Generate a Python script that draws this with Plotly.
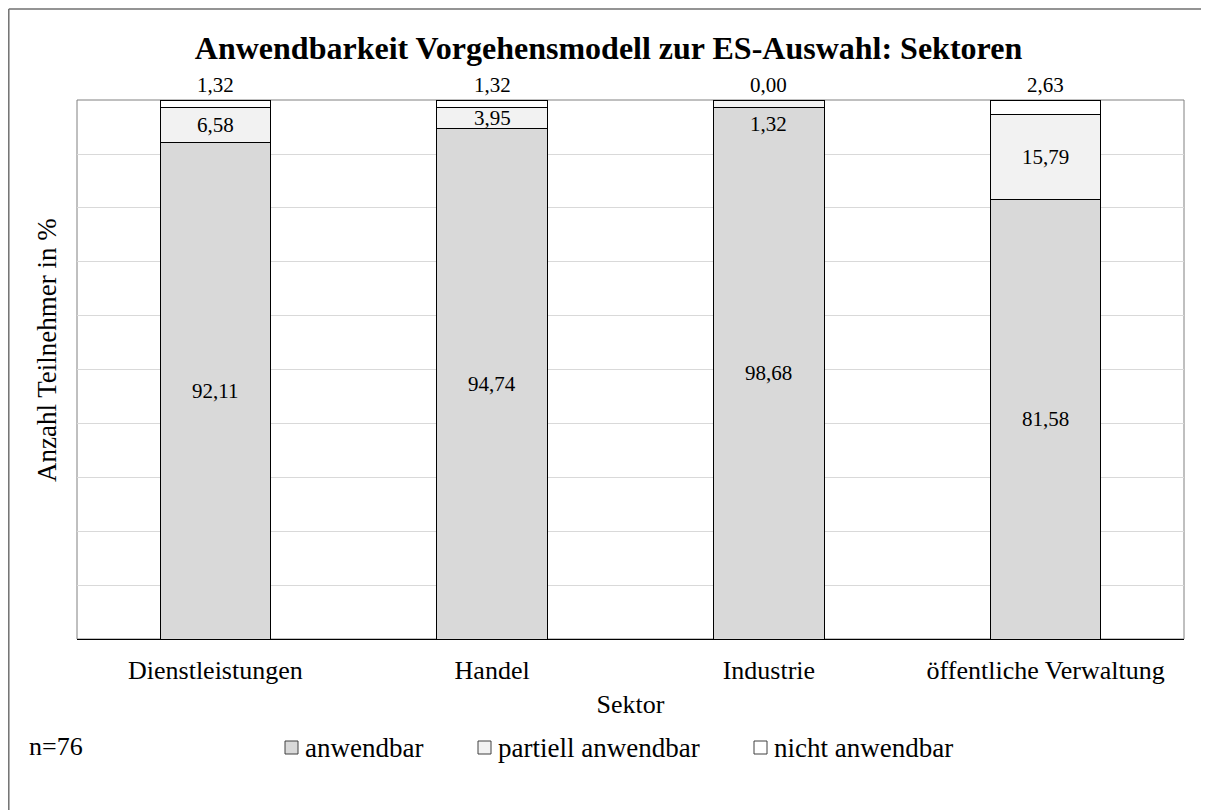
import plotly.graph_objects as go

# ---- data ----
categories = ["Dienstleistungen", "Handel", "Industrie", "öffentliche Verwaltung"]
anwendbar = [92.11, 94.74, 98.68, 81.58]
partiell = [6.58, 3.95, 1.32, 15.79]
nicht = [1.32, 1.32, 0.00, 2.63]
series_names = ["anwendbar", "partiell anwendbar", "nicht anwendbar"]
series_colors = ["#D9D9D9", "#F2F2F2", "#FFFFFF"]
title_text = "Anwendbarkeit Vorgehensmodell zur ES-Auswahl: Sektoren"
n_text = "n=76"

FONT = "Liberation Serif, Times New Roman, serif"
W, H = 1201, 802
L, T = 69, 92
PW, PH = 1107, 539
R = W - L - PW
B = H - T - PH


def px_x(x):
    return (x - L) / PW


def px_y(y):
    return 1 - (y - T) / PH


def fmt(v):
    return f"{v:.2f}".replace(".", ",")


fig = go.Figure()
for name, vals, col in zip(series_names, [anwendbar, partiell, nicht], series_colors):
    fig.add_trace(go.Bar(
        x=categories, y=vals, name=name,
        marker=dict(color=col, line=dict(color="black", width=1)),
        showlegend=False,
    ))

annotations = []
for i, cat in enumerate(categories):
    a, p, n = anwendbar[i], partiell[i], nicht[i]
    annotations.append(dict(x=cat, y=a / 2, xref="x", yref="y", text=fmt(a),
                            showarrow=False, yanchor="middle",
                            font=dict(family=FONT, size=21, color="black")))
    if p >= 3:
        annotations.append(dict(x=cat, y=a + p / 2, xref="x", yref="y", text=fmt(p),
                                showarrow=False, yanchor="middle",
                                font=dict(family=FONT, size=21, color="black")))
    else:
        annotations.append(dict(x=cat, y=a, xref="x", yref="y", text=fmt(p),
                                showarrow=False, yanchor="top", yshift=-3,
                                font=dict(family=FONT, size=21, color="black")))
    annotations.append(dict(x=cat, y=a + p + n, xref="x", yref="y", text=fmt(n),
                            showarrow=False, yanchor="bottom", yshift=1,
                            font=dict(family=FONT, size=21, color="black")))

# y axis title
annotations.append(dict(x=px_x(39), y=px_y(342), xref="paper", yref="paper",
                        text="Anzahl Teilnehmer in %", textangle=-90, showarrow=False,
                        xanchor="center", yanchor="middle",
                        font=dict(family=FONT, size=27, color="black")))
# n
annotations.append(dict(x=px_x(19), y=px_y(738), xref="paper", yref="paper",
                        text=n_text, showarrow=False, xanchor="left", yanchor="middle",
                        font=dict(family=FONT, size=26, color="black")))

shapes = [
    # plot frame
    dict(type="rect", xref="paper", yref="paper", x0=0, x1=1, y0=0, y1=1,
         line=dict(color="#808080", width=1), layer="below"),
    # outer border: top and left edges (the rest runs off the page)
    dict(type="line", xref="paper", yref="paper",
         x0=px_x(0.8), x1=px_x(W + 40), y0=px_y(1), y1=px_y(1),
         line=dict(color="#707070", width=1.5)),
    dict(type="line", xref="paper", yref="paper",
         x0=px_x(0.8), x1=px_x(0.8), y0=px_y(1), y1=px_y(H + 40),
         line=dict(color="#707070", width=1.5)),
]

# custom legend
legend_x = [277, 470, 746]
for name, col, lx in zip(series_names, series_colors, legend_x):
    shapes.append(dict(type="rect", xref="paper", yref="paper",
                       x0=px_x(lx), x1=px_x(lx + 13), y0=px_y(746), y1=px_y(733),
                       fillcolor=col, line=dict(color="#404040", width=1)))
    annotations.append(dict(x=px_x(lx + 18), y=px_y(740), xref="paper", yref="paper",
                            text=name, showarrow=False, xanchor="left", yanchor="middle",
                            font=dict(family=FONT, size=27, color="black")))

fig.update_layout(
    width=W, height=H,
    margin=dict(l=L, r=R, t=T, b=B),
    paper_bgcolor="white", plot_bgcolor="white",
    barmode="stack", bargap=0.6,
    title=dict(text="<b>" + title_text + "</b>", x=0.5, xref="container",
               y=1 - 40 / H, yref="container", xanchor="center", yanchor="middle",
               font=dict(family=FONT, size=32, color="black")),
    xaxis=dict(showline=True, linecolor="black", linewidth=1.2, ticks="",
               ticklabelstandoff=8,
               tickfont=dict(family=FONT, size=26, color="black"),
               title=dict(text="Sektor", font=dict(family=FONT, size=26, color="black"),
                          standoff=10),
               showgrid=False),
    yaxis=dict(range=[0, 100.02], tick0=0, dtick=10, showticklabels=False, ticks="",
               gridcolor="#D9D9D9", gridwidth=1, zeroline=False, showline=False),
    annotations=annotations,
    shapes=shapes,
    font=dict(family=FONT, color="black"),
)

fig.write_html("out.html")
